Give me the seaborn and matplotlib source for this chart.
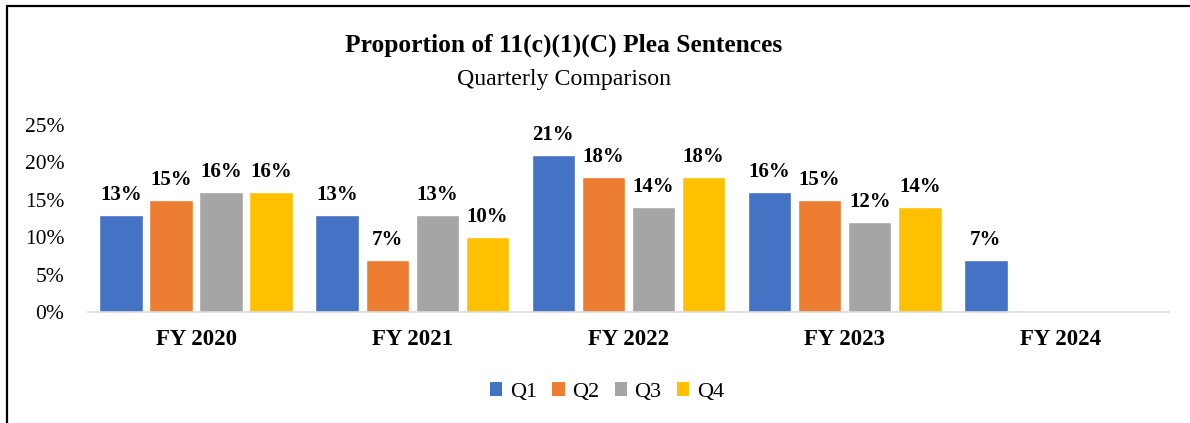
import pandas as pd
import matplotlib
matplotlib.use("Agg")
import matplotlib.pyplot as plt
from matplotlib.lines import Line2D
from matplotlib.patches import Patch
import seaborn as sns

# chart data (percent)
years = ["FY 2020", "FY 2021", "FY 2022", "FY 2023", "FY 2024"]
quarters = ["Q1", "Q2", "Q3", "Q4"]
q1 = [13, 13, 21, 16, 7]
q2 = [15, 7, 18, 15, None]
q3 = [16, 13, 14, 12, None]
q4 = [16, 10, 18, 14, None]
colors = ["#4472C4", "#ED7D31", "#A5A5A5", "#FFC000"]
y_ticks = [0, 5, 10, 15, 20, 25]

# long format, skip missing quarters
rows = []
for q, vals in zip(quarters, [q1, q2, q3, q4]):
    for yr, v in zip(years, vals):
        if v is not None:
            rows.append({"year": yr, "quarter": q, "value": v})
df = pd.DataFrame(rows)

sns.set_style("white")
plt.rcParams["font.family"] = ["Liberation Serif", "DejaVu Serif"]
plt.rcParams["text.color"] = "black"
plt.rcParams["xtick.color"] = "black"
plt.rcParams["ytick.color"] = "black"

fig = plt.figure(figsize=(11.9, 4.23), dpi=100)
ax = fig.add_axes([88 / 1190, 111 / 423, 1081 / 1190, 187.5 / 423])

sns.barplot(data=df, x="year", y="value", hue="quarter", order=years,
            hue_order=quarters, palette=colors, saturation=1,
            width=0.926, gap=0.13, ax=ax, legend=False)

for cont in ax.containers:
    ax.bar_label(cont, fmt="%.0f%%", padding=7, fontsize=15,
                 fontweight="bold", color="black")

ax.set_xlim(-0.5, 4.5)
ax.set_ylim(0, 25)
ax.set_yticks(y_ticks)
ax.set_yticklabels([f"{t}%" for t in y_ticks], fontsize=15.5)
ax.set_xticklabels(years, fontsize=16.5, fontweight="bold")
ax.tick_params(axis="y", length=0, pad=17)
ax.tick_params(axis="x", length=0, pad=12)
ax.set_xlabel("")
ax.set_ylabel("")
for s in ["top", "right", "left"]:
    ax.spines[s].set_visible(False)
ax.spines["bottom"].set_color("#D9D9D9")
ax.spines["bottom"].set_linewidth(1.2)
ax.grid(False)

# titles
fig.text(564 / 1190, 1 - 52 / 423, "Proportion of 11(c)(1)(C) Plea Sentences",
         ha="center", va="baseline", fontsize=18.4, fontweight="bold")
fig.text(564 / 1190, 1 - 85 / 423, "Quarterly Comparison",
         ha="center", va="baseline", fontsize=17.2)

# legend
handles = [Patch(facecolor=c, edgecolor="none") for c in colors]
ax.legend(handles, quarters, loc="center", bbox_to_anchor=(607 / 1190, 1 - 392 / 423),
          bbox_transform=fig.transFigure, ncol=4, frameon=False, fontsize=16,
          handlelength=0.55, handleheight=0.55, handletextpad=0.35,
          columnspacing=0.68, labelcolor="black")

# chart border (top and left only visible)
fig.add_artist(Line2D([7 / 1190, 1], [1 - 6 / 423, 1 - 6 / 423],
                      transform=fig.transFigure, color="black", lw=1.6))
fig.add_artist(Line2D([7 / 1190, 7 / 1190], [0, 1 - 6 / 423],
                      transform=fig.transFigure, color="black", lw=1.6))

fig.savefig("out.png", dpi=100)
